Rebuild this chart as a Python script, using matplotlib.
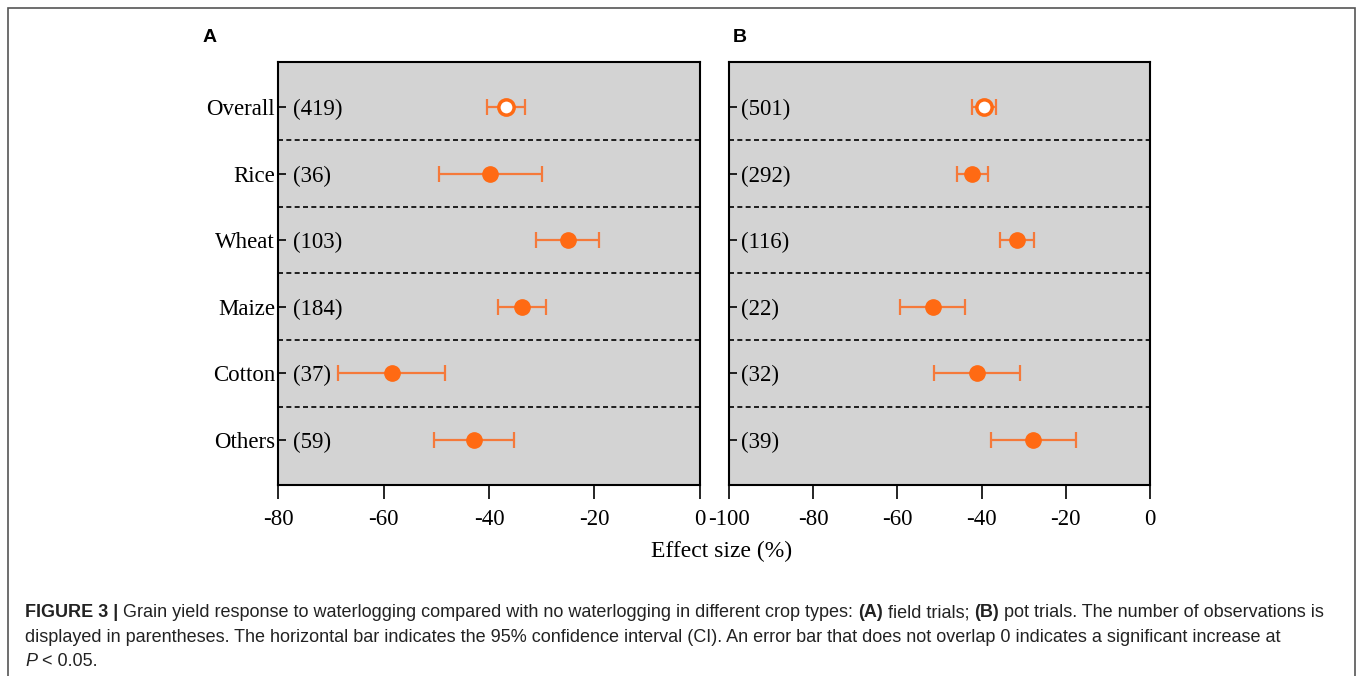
import matplotlib
matplotlib.use("Agg")
import matplotlib.pyplot as plt
from matplotlib.patches import Rectangle

# data
crops = ["Overall", "Rice", "Wheat", "Maize", "Cotton", "Others"]

field_n = [419, 36, 103, 184, 37, 59]
field_mean = [-36.8, -39.8, -25.1, -33.8, -58.4, -42.8]
field_lo = [-40.3, -49.5, -31.1, -38.3, -68.7, -50.4]
field_hi = [-33.2, -30.0, -19.1, -29.2, -48.3, -35.2]

pot_n = [501, 292, 116, 22, 32, 39]
pot_mean = [-39.4, -42.2, -31.7, -51.6, -41.0, -27.7]
pot_lo = [-42.2, -45.8, -35.7, -59.3, -51.2, -37.7]
pot_hi = [-36.5, -38.4, -27.5, -43.9, -30.8, -17.5]

field_ticks = [-80, -60, -40, -20, 0]
pot_ticks = [-100, -80, -60, -40, -20, 0]

orange = "#FF6A13"
bar_col = "#F5793A"
serif = "Liberation Serif"
sans = "Liberation Sans"
txt_col = "#222222"

W, H = 1358, 676
fig = plt.figure(figsize=(W / 100, H / 100), dpi=100)

# outer frame of the figure box
fig.patches.append(Rectangle((8 / W, -0.05), 1347 / W, 1.05 - 8 / H,
                             transform=fig.transFigure, fill=False,
                             edgecolor="#555555", linewidth=1.2))

axA = fig.add_axes([278 / W, 1 - 485 / H, 422 / W, 423 / H])
axB = fig.add_axes([729 / W, 1 - 485 / H, 421 / W, 423 / H])


def panel(ax, n, mean, lo, hi, ticks, show_names, xoff):
    ax.set_facecolor("#D3D3D3")
    y = list(range(len(crops)))
    for i in y:
        xerr = [[mean[i] - lo[i]], [hi[i] - mean[i]]]
        ax.errorbar(mean[i], i, xerr=xerr, fmt="none", ecolor=bar_col,
                    elinewidth=1.6, capsize=6, capthick=1.6, zorder=2)
        if i == 0:
            ax.plot(mean[i], i, "o", markersize=11, markerfacecolor="white",
                    markeredgecolor=orange, markeredgewidth=2.5, zorder=3)
        else:
            ax.plot(mean[i], i, "o", markersize=11, color=orange, zorder=3)
        ax.annotate("(%d)" % n[i], xy=(0, i), xycoords=("axes fraction", "data"),
                    xytext=(xoff, 0), textcoords="offset points",
                    ha="left", va="center_baseline", fontsize=16.5, family=serif)
    for k in range(len(crops) - 1):
        ax.axhline(k + 0.5, color="black", linestyle=(0, (3, 2)), linewidth=1.2)
    ax.set_xlim(ticks[0], ticks[-1])
    ax.set_ylim(len(crops) - 1 + 0.675, -0.675)
    ax.set_xticks(ticks)
    ax.set_xticklabels([str(t) for t in ticks], family=serif, fontsize=16.5)
    ax.set_yticks(y)
    if show_names:
        ax.set_yticklabels(crops, family=serif, fontsize=16.5)
    else:
        ax.set_yticklabels([])
    ax.tick_params(axis="y", direction="in", length=6, width=1.2, pad=2)
    ax.tick_params(axis="x", direction="out", length=10, width=1.2, pad=7)
    for s in ax.spines.values():
        s.set_linewidth(1.5)


panel(axA, field_n, field_mean, field_lo, field_hi, field_ticks, True, 11)
panel(axB, pot_n, pot_mean, pot_lo, pot_hi, pot_ticks, False, 9)

fig.text(203 / W, 1 - 37 / H, "A", fontsize=14, fontweight="bold", family=sans,
         va="center", ha="left")
fig.text(733 / W, 1 - 37 / H, "B", fontsize=14, fontweight="bold", family=sans,
         va="center", ha="left")
fig.text(722 / W, 1 - 551 / H, "Effect size (%)", fontsize=17, family=serif,
         ha="center", va="center")

# caption, pieces laid one after another on a shared baseline
cap_size = 13
lines = [
    [("FIGURE 3 |", "bold", "normal"),
     (" Grain yield response to waterlogging compared with no waterlogging in different crop types: ", "normal", "normal"),
     ("(A)", "bold", "normal"), (" field trials; ", "normal", "normal"), ("(B)", "bold", "normal"),
     (" pot trials. The number of observations is", "normal", "normal")],
    [("displayed in parentheses. The horizontal bar indicates the 95% confidence interval (CI). An error bar that does not overlap 0 indicates a significant increase at", "normal", "normal")],
    [("P", "normal", "italic"), (" < 0.05.", "normal", "normal")],
]
baselines = [617, 642, 666]
renderer = fig.canvas.get_renderer()
for parts, yy in zip(lines, baselines):
    x = 25
    for txt, wt, st in parts:
        t = fig.text(x / W, 1 - yy / H, txt, fontsize=cap_size, family=sans,
                     fontweight=wt, style=st, va="baseline", ha="left", color=txt_col)
        x = t.get_window_extent(renderer).x1

fig.savefig("out.png", dpi=100)
